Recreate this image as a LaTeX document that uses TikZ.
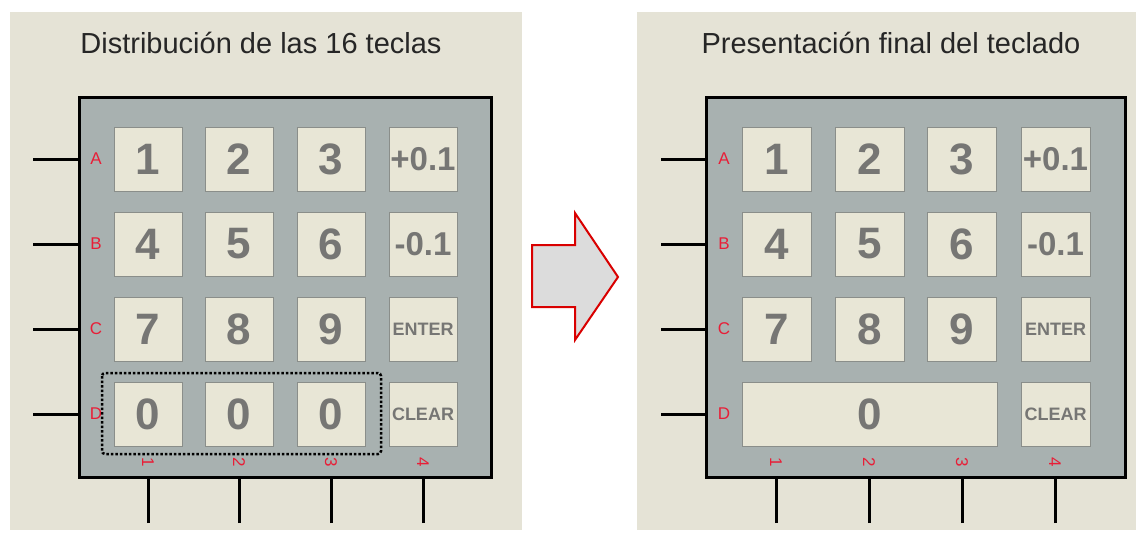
\documentclass[tikz,border=0pt]{standalone}
\usepackage{fontspec}
\setmainfont{Liberation Sans}
\usepackage{xcolor}
\usepackage{tikz}

\definecolor{paper}{RGB}{229,227,214}
\definecolor{padgrey}{RGB}{168,177,176}
\definecolor{keyfill}{RGB}{232,230,214}
\definecolor{keyedge}{RGB}{138,142,138}
\definecolor{keytext}{RGB}{118,118,116}
\definecolor{pinred}{RGB}{232,30,55}
\definecolor{arrowgrey}{RGB}{220,220,220}

\begin{document}
\begin{tikzpicture}[x=1pt,y=-1pt,
      pad/.style={draw=black,line width=3pt,fill=padgrey,inner sep=0,outer sep=0},
      key/.style={draw=keyedge,line width=1pt,fill=keyfill,minimum width=68pt,minimum height=64pt,
                  inner sep=0,text=keytext,font=\fontsize{44}{44}\selectfont\bfseries},
      wkey/.style={key,font=\fontsize{33}{33}\selectfont\bfseries},
      skey/.style={key,font=\fontsize{18}{18}\selectfont\bfseries},
      pin/.style={line width=3pt},
      lbl/.style={text=pinred,inner sep=0,font=\fontsize{17}{17}\selectfont},
      title/.style={anchor=base,text=black!85,font=\fontsize{29}{29}\selectfont}
]
      \useasboundingbox (0,0) rectangle (1138,533);
      \fill[white] (0,0) rectangle (1138,533);
      \fill[paper] (10,12) rectangle (522,530);
      \fill[paper] (637,12) rectangle (1136,530);

      % left panel: 16 keys
      \node[title] (tL) at (261,53) {Distribución de las 16 teclas};
      \node[pad,minimum width=412pt,minimum height=380pt] (padL) at (285,287) {};
      \foreach \r/\y/\a/\b/\c in {A/159/1/2/3,B/244/4/5/6,C/329/7/8/9,D/414/0/0/0} {
          \coordinate (lw\r) at (33,\y);
          \draw[pin] (lw\r) -- (lw\r -| padL.west);
          \node[lbl] (lr\r) at (96,\y) {\r};
          \node[key] (l\r1) at (148,\y) {\a};
          \node[key] (l\r2) at (239,\y) {\b};
          \node[key] (l\r3) at (331,\y) {\c};
      }
      \node[wkey] (lA4) at (423,159) {+0.1};
      \node[wkey] (lB4) at (423,244) {-0.1};
      \node[skey] (lC4) at (423,329) {ENTER};
      \node[skey] (lD4) at (423,414) {CLEAR};
      \foreach \x [count=\i] in {148,239,331,423} {
          \coordinate (lp\i) at (\x,523);
          \draw[pin] (lp\i) -- (lp\i |- padL.south);
          \node[lbl,rotate=-90] (lc\i) at (\x,462) {\i};
      }
      \draw[line width=2.5pt,dash pattern=on 2.5pt off 2pt,rounded corners=3pt]
          (102,373) rectangle (381,454);

      % arrow
      \draw[draw=red!85!black,line width=2pt,fill=arrowgrey]
          (532,245) -- (575,245) -- (575,213) -- (618,277) -- (575,340) -- (575,307) -- (532,307) -- cycle;

      % right panel: final layout
      \node[title] (tR) at (891,53) {Presentación final del teclado};
      \node[pad,minimum width=419pt,minimum height=380pt] (padR) at (915.5,287) {};
      \foreach \r/\y in {A/159,B/244,C/329,D/414} {
          \coordinate (rw\r) at (661,\y);
          \draw[pin] (rw\r) -- (rw\r -| padR.west);
          \node[lbl] (rr\r) at (724,\y) {\r};
      }
      \foreach \r/\y/\a/\b/\c in {A/159/1/2/3,B/244/4/5/6,C/329/7/8/9} {
          \node[key,minimum width=69pt] (r\r1) at (776.5,\y) {\a};
          \node[key,minimum width=69pt] (r\r2) at (869.5,\y) {\b};
          \node[key,minimum width=69pt] (r\r3) at (962,\y) {\c};
      }
      \node[key,minimum width=255pt] (rD0) at (869.5,414) {0};
      \node[wkey,minimum width=69pt] (rA4) at (1055.5,159) {+0.1};
      \node[wkey,minimum width=69pt] (rB4) at (1055.5,244) {-0.1};
      \node[skey,minimum width=69pt] (rC4) at (1055.5,329) {ENTER};
      \node[skey,minimum width=69pt] (rD4) at (1055.5,414) {CLEAR};
      \foreach \x [count=\i] in {776,869,962,1055} {
          \coordinate (rp\i) at (\x,523);
          \draw[pin] (rp\i) -- (rp\i |- padR.south);
          \node[lbl,rotate=-90] (rc\i) at (\x,462) {\i};
      }
\end{tikzpicture}
\end{document}
